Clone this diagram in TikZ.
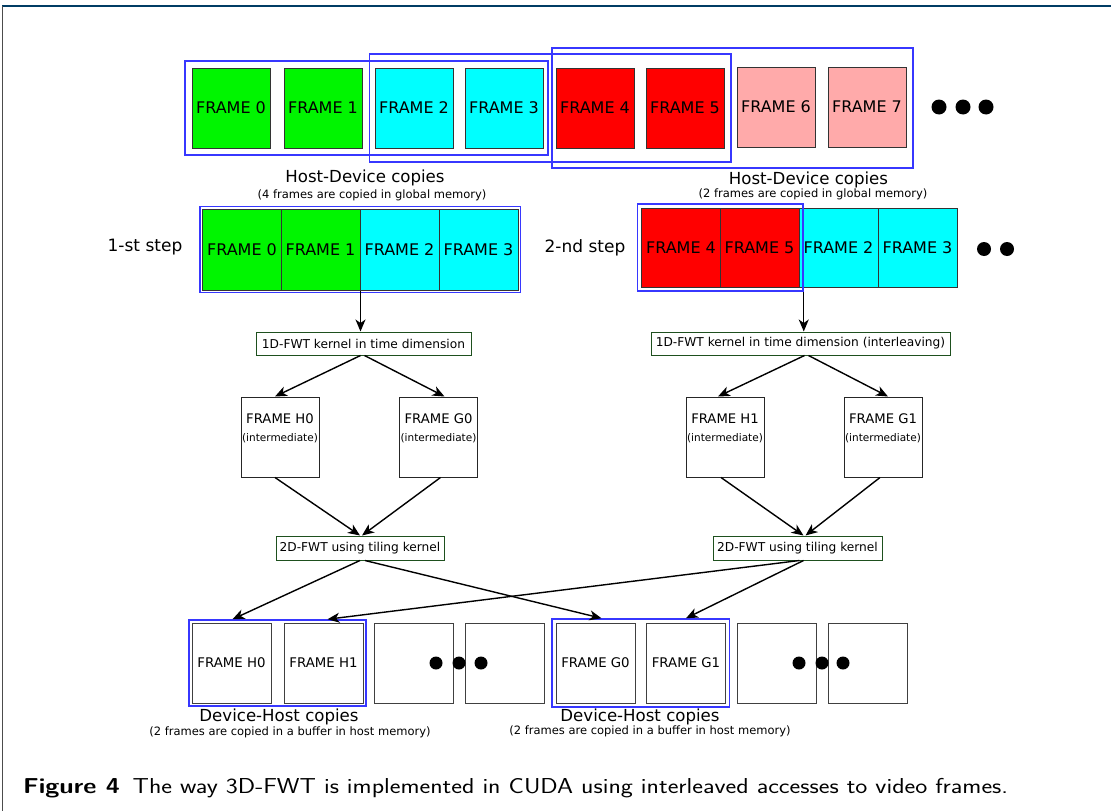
\documentclass[tikz,border=0pt]{standalone}
\usepackage{fontspec}
\newfontfamily\dv{DejaVu Sans}
\usetikzlibrary{arrows.meta,fit,calc}
\definecolor{fgreen}{RGB}{0,245,0}
\definecolor{fcyan}{RGB}{0,255,255}
\definecolor{fred}{RGB}{255,0,0}
\definecolor{fpink}{RGB}{255,170,170}
\definecolor{bblue}{RGB}{55,55,255}
\definecolor{kgreen}{RGB}{30,80,30}
\definecolor{rule}{RGB}{0,60,100}
\tikzset{
  fr/.style={draw=black!80, line width=1pt, minimum width=78pt, minimum height=80pt, inner sep=0pt, font=\dv\fontsize{16}{19}\selectfont},
  sfr/.style={fr, minimum width=79pt, minimum height=81pt},
  ifr/.style={draw=black!85, line width=1pt, minimum width=78pt, minimum height=80pt, inner sep=0pt},
  bfr/.style={draw=black!75, line width=1pt, minimum width=79pt, minimum height=80pt, inner sep=0pt, font=\dv\fontsize{13.3}{16}\selectfont},
  bbox/.style={draw=bblue, line width=1.5pt},
  kern/.style={draw=kgreen, line width=1pt, inner sep=0pt, font=\dv\fontsize{12.2}{14}\selectfont},
  arr/.style={-{Stealth[length=12pt,width=10pt,inset=3.5pt]}, line width=1.4pt},
  big/.style={font=\dv\fontsize{16.6}{19}\selectfont, inner sep=0pt},
  small/.style={font=\dv\fontsize{11.5}{13}\selectfont, inner sep=0pt},
  dot/.style={circle, fill=black, inner sep=0pt, minimum size=15pt},
}
\begin{document}
\begin{tikzpicture}[x=1pt,y=-1pt]
\useasboundingbox (0,0) rectangle (1111,811);
\fill[white] (0,0) rectangle (1111,811);
\draw[rule, line width=2pt] (2,6) -- (1111,6);
\draw[black!70, line width=0.8pt] (2.5,6) -- (2.5,811);

% top row
\node[fr, fill=fgreen] (t0) at (231,108) {FRAME 0};
\node[fr, fill=fgreen] (t1) at (323,108) {FRAME 1};
\node[fr, fill=fcyan] (t2) at (414,108) {FRAME 2};
\node[fr, fill=fcyan] (t3) at (504,108) {FRAME 3};
\node[fr, fill=fred] (t4) at (595,108) {FRAME 4};
\node[fr, fill=fred] (t5) at (685,108) {FRAME 5};
\node[fr, fill=fpink] (t6) at (776,107) {FRAME 6};
\node[fr, fill=fpink] (t7) at (867,107) {FRAME 7};
\draw[bbox] (185,61) rectangle (548,155);
\draw[bbox] (369.5,54) rectangle (731,162);
\draw[bbox] (552,48) rectangle (913,168);
\node[dot] (d1) at (939,107) {};
\node[dot] (d2) at (963,107) {};
\node[dot] (d3) at (986,107) {};
\node[big] (hd1) at (365,178) {Host-Device copies};
\node[small] (hd1s) at (372,195) {(4 frames are copied in global memory)};
\node[big] (hd2) at (808.5,180) {Host-Device copies};
\node[small] (hd2s) at (813,194) {(2 frames are copied in global memory)};

% steps
\node[big, font=\dv\fontsize{17}{20}\selectfont] (st1) at (145,247) {1-st step};
\node[big, font=\dv\fontsize{17}{20}\selectfont] (st2) at (585,248) {2-nd step};
\node[sfr, fill=fgreen] (sa) at (242,249.5) {FRAME 0};
\node[sfr, fill=fgreen] (sb) at (320.5,249.5) {FRAME 1};
\node[sfr, fill=fcyan] (sc) at (399.5,249.5) {FRAME 2};
\node[sfr, fill=fcyan] (sd) at (478.5,249.5) {FRAME 3};
\node[bbox, fit=(sa)(sd), inner sep=2pt] (sb1) {};
\node[sfr, fill=fred, minimum height=79pt] (ra) at (681,247.5) {FRAME 4};
\node[sfr, fill=fred, minimum height=79pt] (rb) at (759.5,247.5) {FRAME 5};
\node[sfr, fill=fcyan, minimum height=79pt] (rc) at (838.5,247.5) {FRAME 2};
\node[sfr, fill=fcyan, minimum height=79pt] (rd) at (917.5,247.5) {FRAME 3};
\node[bbox, fit=(ra)(rb), inner sep=3.5pt] (sb2) {};
\node[dot, minimum size=14pt] (d4) at (984,249) {};
\node[dot, minimum size=14pt] (d5) at (1007,249) {};

% kernels
\node[kern, minimum width=215pt, minimum height=23pt] (k1) at (363.5,343.5) {1D-FWT kernel in time dimension};
\node[kern, minimum width=299pt, minimum height=23pt] (k1r) at (800.5,343.5) {1D-FWT kernel in time dimension (interleaving)};
\draw[arr] (sb.south east) -- (sb.south east |- k1.north);
\draw[arr] (sb2.south east) -- (sb2.south east |- k1r.north);

% intermediate
\node[ifr] (h0) at (280,437) {};
\node[ifr] (g0) at (438.5,437) {};
\node[ifr] (h1) at (725,437) {};
\node[ifr] (g1) at (883,437) {};
\foreach \n/\t in {h0/H0, g0/G0, h1/H1, g1/G1}{
  \node[inner sep=0pt, font=\dv\fontsize{13.2}{15}\selectfont] at ($(\n.center)+(0,-18)$) {FRAME \t};
  \node[inner sep=0pt, font=\dv\fontsize{10.5}{12}\selectfont] at ($(\n.center)+(0,1)$) {(intermediate)};
}
\draw[arr] ($(k1.south)+(-3,0)$) -- ($(h0.north)+(-5,0)$);
\draw[arr] ($(k1.south)+(1,0)$) -- ($(g0.north)+(6,0)$);
\draw[arr] ($(k1r.south)+(4,0)$) -- ($(h1.north)+(-7,0)$);
\draw[arr] ($(k1r.south)+(8,0)$) -- ($(g1.north)+(5,0)$);

% 2D kernels
\node[kern, minimum width=168pt, minimum height=24pt] (k2) at (360,548) {2D-FWT using tiling kernel};
\node[kern, minimum width=169pt, minimum height=24pt] (k2r) at (797.5,548) {2D-FWT using tiling kernel};
\draw[arr] ($(h0.south)+(-5,0)$) -- ($(k2.north)+(0,0)$);
\draw[arr] ($(g0.south)+(2,0)$) -- ($(k2.north)+(2,0)$);
\draw[arr] ($(h1.south)+(-4,0)$) -- ($(k2r.north)+(6,0)$);
\draw[arr] ($(g1.south)+(-3,0)$) -- ($(k2r.north)+(8,0)$);

% bottom
\node[bfr] (bh0) at (231.5,663) {FRAME H0};
\node[bfr] (bh1) at (323.5,663) {FRAME H1};
\node[bfr] (bx1) at (413.5,663) {};
\node[bfr] (bx2) at (504.5,663) {};
\node[bfr] (bg0) at (595.5,663) {FRAME G0};
\node[bfr] (bg1) at (686,663) {FRAME G1};
\node[bfr] (bx3) at (776.5,663) {};
\node[bfr] (bx4) at (867.5,663) {};
\node[bbox, fit=(bh0)(bh1), inner sep=2.5pt] (bb1) {};
\node[bbox, fit=(bg0)(bg1), inner sep=3.5pt] (bb2) {};
\node[dot, minimum size=13pt] (d6) at (436,663) {};
\node[dot, minimum size=13pt] (d7) at (459,663) {};
\node[dot, minimum size=13pt] (d8) at (481,663) {};
\node[dot, minimum size=13pt] (d9) at (799,663) {};
\node[dot, minimum size=13pt] (d10) at (822,663) {};
\node[dot, minimum size=13pt] (d11) at (843,663) {};

\draw[arr] ($(k2.south)+(0,0)$) -- ($(bh0.north |- bb1.north)+(1,0)$);
\draw[arr] ($(k2.south)+(5,0)$) -- ($(bg0.north |- bb2.north)+(6,0)$);
\draw[arr] ($(k2r.south)+(2,0)$) -- ($(bh1.north |- bb1.north)+(4,0)$);
\draw[arr] ($(k2r.south)+(6,0)$) -- ($(bg1.north |- bb2.north)+(0,0)$);

\node[big] (dh1) at (279,717) {Device-Host copies};
\node[small] (dh1s) at (290,732) {(2 frames are copied in a buffer in host memory)};
\node[big] (dh2) at (640,717) {Device-Host copies};
\node[small] (dh2s) at (650,731) {(2 frames are copied in a buffer in host memory)};

% caption
\node[anchor=base west, inner sep=0pt, font=\sffamily\fontsize{21.6}{26}\selectfont] (cap) at (23,793) {\scalebox{1.185}[1]{\textbf{Figure 4}\hspace{0.5em}The way 3D-FWT is implemented in CUDA using interleaved accesses to video frames.}};
\end{tikzpicture}
\end{document}
